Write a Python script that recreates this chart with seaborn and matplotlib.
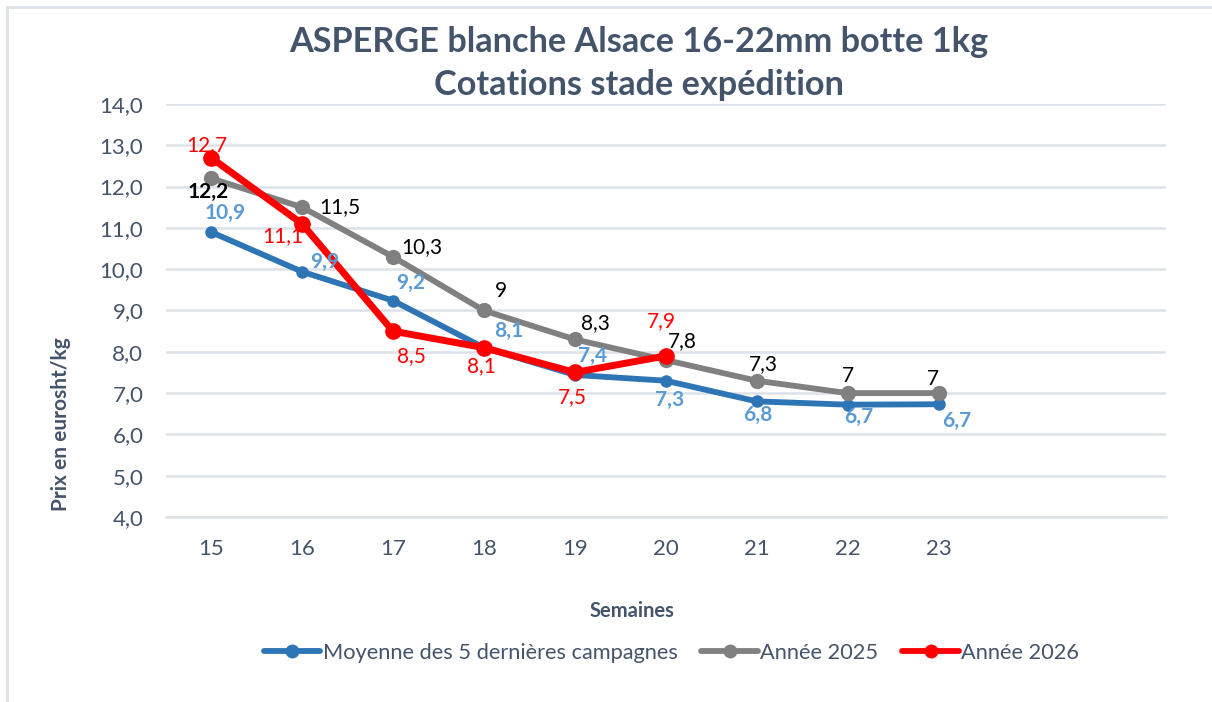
import matplotlib.pyplot as plt
from matplotlib.lines import Line2D
import seaborn as sns

weeks = ["15", "16", "17", "18", "19", "20", "21", "22", "23", "", ""]
avg5 = [10.9, 9.94, 9.24, 8.1, 7.44, 7.3, 6.8, 6.72, 6.73]
avg5_labels = ["10,9", "9,9", "9,2", "8,1", "7,4", "7,3", "6,8", "6,7", "6,7"]
y2025 = [12.2, 11.5, 10.3, 9.0, 8.3, 7.8, 7.3, 7.0, 7.0]
y2025_labels = ["12,2", "11,5", "10,3", "9", "8,3", "7,8", "7,3", "7", "7"]
y2026 = [12.7, 11.1, 8.5, 8.1, 7.5, 7.9]
y2026_labels = ["12,7", "11,1", "8,5", "8,1", "7,5", "7,9"]

# label offsets in points (dx, dy), hand placed like the excel chart
off_avg = [(10, 14), (16, 7), (13, 13), (18, 12), (13, 14), (3, -14), (1, -10), (8, -9), (13, -12)]
off_2025 = [(-2, -10), (27, 0), (21, 7), (12, 14), (15, 12), (12, 14), (5, 12), (0, 12), (-4, 10)]
off_2026 = [(-3, 9), (-14, -9), (13, -18), (-2, -13), (-2, -18), (-3, 25)]

BLUE = "#2E75B6"
BLUE_TXT = "#5B9BD5"
GREY = "#808080"
RED = "#FF0000"
TXT = "#44546A"
GRID = "#DDE2E8"

sns.set_style("white")
plt.rcParams["font.family"] = ["Lato", "DejaVu Sans"]

fig = plt.figure(figsize=(12.12, 7.02), dpi=100)
ax = fig.add_axes([0.1366, 0.2635, 0.8254, 0.5884])

x_all = list(range(len(weeks)))

sns.lineplot(x=x_all[:len(avg5)], y=avg5, ax=ax, color=BLUE, linewidth=4.2,
             marker="o", markersize=9, markeredgewidth=0, zorder=3)
sns.lineplot(x=x_all[:len(y2025)], y=y2025, ax=ax, color=GREY, linewidth=4.2,
             marker="o", markersize=11, markeredgewidth=0, zorder=4)
sns.lineplot(x=x_all[:len(y2026)], y=y2026, ax=ax, color=RED, linewidth=5,
             marker="o", markersize=12, markeredgewidth=0, zorder=5)

for i, (v, t) in enumerate(zip(avg5, avg5_labels)):
    ax.annotate(t, (i, v), xytext=off_avg[i], textcoords="offset points",
                ha="center", va="center", color=BLUE_TXT, fontsize=15,
                fontweight="bold", zorder=6)
for i, (v, t) in enumerate(zip(y2025, y2025_labels)):
    ax.annotate(t, (i, v), xytext=off_2025[i], textcoords="offset points",
                ha="center", va="center", color="black", fontsize=15,
                fontweight="bold" if i == 0 else "normal", zorder=6)
for i, (v, t) in enumerate(zip(y2026, y2026_labels)):
    ax.annotate(t, (i, v), xytext=off_2026[i], textcoords="offset points",
                ha="center", va="center", color=RED, fontsize=15, zorder=6)

ax.set_xlim(-0.5, len(weeks) - 0.5)
ax.set_ylim(4, 14)
ax.set_yticks(range(4, 15))
ax.set_yticklabels([f"{v},0" for v in range(4, 15)], color=TXT, fontsize=16)
ax.set_xticks(x_all)
ax.set_xticklabels(weeks, color=TXT, fontsize=16)
ax.set_xticks([i - 0.5 for i in range(len(weeks) + 1)], minor=True)
ax.tick_params(axis="x", which="major", length=0, pad=16)
ax.tick_params(axis="x", which="minor", length=7, width=1.5, color=GRID)
ax.tick_params(axis="y", length=0, pad=16)
ax.grid(axis="y", color=GRID, linewidth=1.8, zorder=0)
for side in ["top", "right", "left"]:
    ax.spines[side].set_visible(False)
ax.spines["bottom"].set_color(GRID)
ax.spines["bottom"].set_linewidth(1.8)

ax.set_xlabel("")
fig.text(632 / 1212, 1 - 611 / 702, "Semaines", ha="center", va="center",
         color=TXT, fontsize=14.5, fontweight="bold")
fig.text(61 / 1212, 1 - 424 / 702, "Prix en eurosht/kg", ha="center", va="center",
         rotation=90, color=TXT, fontsize=15, fontweight="bold")

fig.text(0.527, 1 - 42 / 702, "ASPERGE blanche Alsace 16-22mm botte 1kg",
         ha="center", va="center", color=TXT, fontsize=24.7, fontweight="bold")
fig.text(0.527, 1 - 85 / 702, "Cotations stade expédition",
         ha="center", va="center", color=TXT, fontsize=24.7, fontweight="bold")

handles = [
    Line2D([], [], color=BLUE, linewidth=4.2, marker="o", markersize=10, markeredgewidth=0),
    Line2D([], [], color=GREY, linewidth=4.2, marker="o", markersize=10, markeredgewidth=0),
    Line2D([], [], color=RED, linewidth=4.2, marker="o", markersize=10, markeredgewidth=0),
]
fig.legend(handles, ["Moyenne des 5 dernières campagnes", "Année 2025", "Année 2026"],
           loc="center", bbox_to_anchor=(0.554, 1 - 653 / 702), ncol=3,
           frameon=False, fontsize=15.7, labelcolor=TXT, handlelength=2.6,
           handletextpad=0.1, columnspacing=1.1)

# excel chart frame (only top and left edges visible)
fig.add_artist(Line2D([7 / 1212, 1], [1 - 7 / 702, 1 - 7 / 702], color=GRID, linewidth=2))
fig.add_artist(Line2D([7 / 1212, 7 / 1212], [0, 1 - 7 / 702], color=GRID, linewidth=2))

fig.savefig("out.png", dpi=100, facecolor="white")
